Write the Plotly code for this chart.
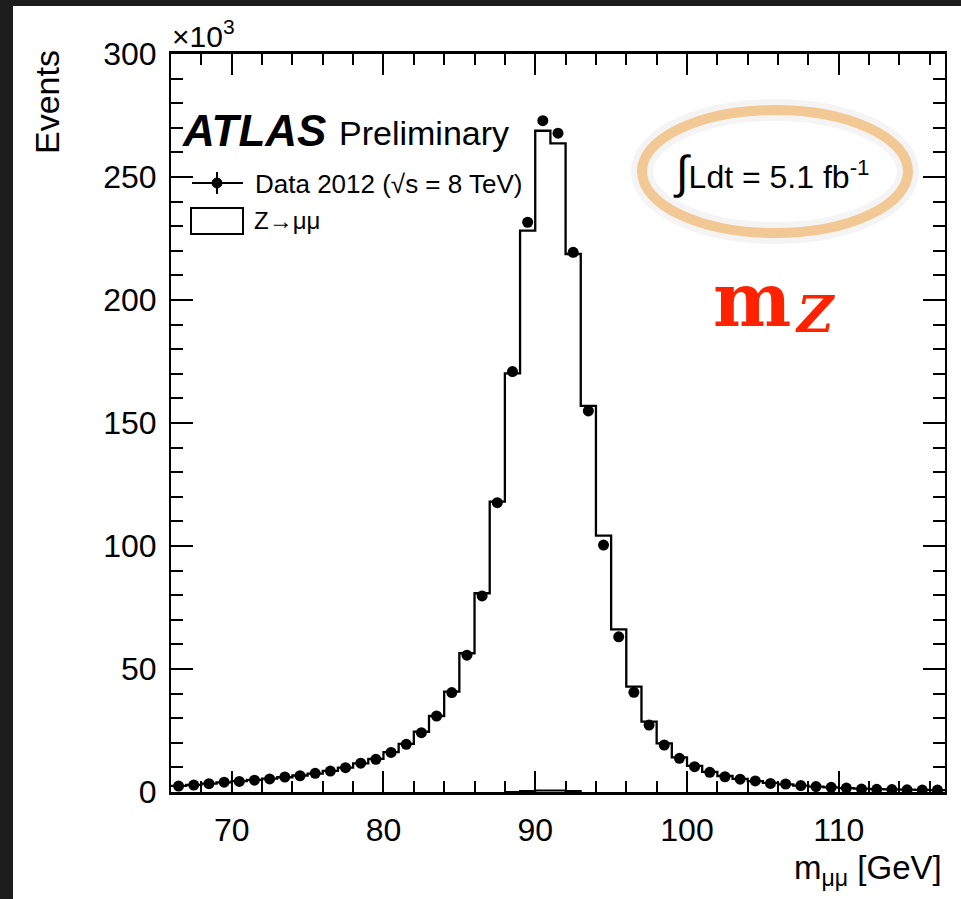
import plotly.graph_objects as go

# ---------------- data (thousands of events per 1 GeV bin) ----------------
bin_low_edges = [66, 67, 68, 69, 70, 71, 72, 73, 74, 75, 76, 77, 78, 79, 80, 81, 82,
                 83, 84, 85, 86, 87, 88, 89, 90, 91, 92, 93, 94, 95, 96, 97, 98, 99,
                 100, 101, 102, 103, 104, 105, 106, 107, 108, 109, 110, 111, 112, 113,
                 114, 115, 116]
bin_width = 1.0

data_2012 = [2.4, 2.8, 3.4, 4.0, 4.3, 4.8, 5.3, 6.1, 6.6, 7.6, 8.5, 9.9, 11.7, 13.3,
             16.1, 19.4, 24.1, 30.9, 40.4, 55.6, 79.7, 117.6, 170.9, 231.6, 272.9,
             267.8, 219.4, 154.9, 100.4, 63.1, 40.5, 27.2, 19.1, 13.7, 10.3, 8.0, 6.2,
             5.2, 4.5, 3.5, 3.25, 2.6, 2.2, 1.9, 1.6, 1.2, 1.1, 1.0, 0.9, 0.8, 0.8]

z_mumu_mc = [2.5, 2.9, 3.4, 3.9, 4.4, 4.9, 5.4, 6.0, 6.7, 7.5, 8.6, 9.9, 11.6, 13.5,
             16.2, 19.6, 24.5, 30.9, 40.8, 56.4, 80.8, 118.0, 170.2, 228.2, 268.8,
             263.7, 218.7, 157.0, 104.2, 66.1, 42.8, 28.6, 19.8, 14.1, 10.6, 8.2, 6.5,
             5.3, 4.4, 3.7, 3.1, 2.6, 2.2, 1.9, 1.6, 1.4, 1.2, 1.1, 1.0, 0.9, 0.8]

bkg_low_edges = [88, 89, 90, 91, 92, 93]
bkg_values = [0.0, 0.4, 0.6, 0.6, 0.4, 0.0]

x_ticks = [70, 80, 90, 100, 110]
y_ticks = [0, 50, 100, 150, 200, 250, 300]

# ---------------- geometry ----------------
W, H = 961, 899
ML, MR, MT, MB = 171, 16, 54, 107
PW, PH = W - ML - MR, H - MT - MB


def px(xp):
    return (xp - ML) / PW


def py(yp):
    return (H - MB - yp) / PH


FONT = "Liberation Sans, Arial, Helvetica, sans-serif"
SERIF = "DejaVu Serif, Liberation Serif, serif"

bin_centres = [e + bin_width / 2 for e in bin_low_edges]
mc_x = bin_low_edges + [bin_low_edges[-1] + bin_width]
mc_y = z_mumu_mc + [z_mumu_mc[-1]]

fig = go.Figure()

fig.add_trace(go.Scatter(x=mc_x, y=mc_y, mode="lines", line=dict(shape="hv", color="black", width=2.3),
                         hoverinfo="skip", showlegend=False))
fig.add_trace(go.Scatter(x=bkg_low_edges, y=bkg_values, mode="lines",
                         line=dict(shape="hv", color="black", width=2),
                         hoverinfo="skip", showlegend=False))
fig.add_trace(go.Scatter(x=bin_centres, y=data_2012, mode="markers",
                         marker=dict(color="black", size=11), showlegend=False))

shapes = []
# white page over dark frame
shapes.append(dict(type="rect", xref="paper", yref="paper", layer="below",
                   x0=px(13), x1=px(W + 5), y0=py(H + 5), y1=py(6),
                   fillcolor="white", line=dict(width=0)))
# legend: data marker
shapes.append(dict(type="line", xref="paper", yref="paper", x0=px(192), x1=px(243), y0=py(183), y1=py(183),
                   line=dict(color="black", width=2)))
shapes.append(dict(type="line", xref="paper", yref="paper", x0=px(217), x1=px(217), y0=py(172), y1=py(194),
                   line=dict(color="black", width=2)))
shapes.append(dict(type="circle", xref="paper", yref="paper", x0=px(212), x1=px(222), y0=py(188), y1=py(178),
                   fillcolor="black", line=dict(color="black", width=1)))
# legend: MC box
shapes.append(dict(type="rect", xref="paper", yref="paper", x0=px(191), x1=px(243), y0=py(234), y1=py(208),
                   line=dict(color="black", width=2), fillcolor="white"))
# lumi ellipse: soft shadow + orange crayon ring
shapes.append(dict(type="circle", xref="paper", yref="paper", x0=px(642), x1=px(908), y0=py(233), y1=py(110),
                   line=dict(color="rgba(0,0,0,0.045)", width=22)))
shapes.append(dict(type="circle", xref="paper", yref="paper", x0=px(642), x1=px(908), y0=py(233), y1=py(110),
                   line=dict(color="#F2C994", width=10)))

annotations = []
annotations.append(dict(text="<b><i>ATLAS</i></b>", x=px(180), y=py(130), xref="paper", yref="paper",
                        xanchor="left", yanchor="middle", showarrow=False,
                        font=dict(family=FONT, size=44, color="black")))
annotations.append(dict(text="Preliminary", x=px(337), y=py(133), xref="paper", yref="paper",
                        xanchor="left", yanchor="middle", showarrow=False,
                        font=dict(family=FONT, size=34, color="black")))
annotations.append(dict(text="Data 2012 (√s = 8 TeV)", x=px(253), y=py(184), xref="paper", yref="paper",
                        xanchor="left", yanchor="middle", showarrow=False,
                        font=dict(family=FONT, size=26, color="black")))
annotations.append(dict(text="Z→μμ", x=px(252), y=py(221), xref="paper", yref="paper",
                        xanchor="left", yanchor="middle", showarrow=False,
                        font=dict(family=FONT, size=24, color="black")))
annotations.append(dict(text="<span style='font-size:46px'>∫</span>Ldt = 5.1 fb<sup>-1</sup>",
                        x=px(771), y=py(172), xref="paper", yref="paper",
                        xanchor="center", yanchor="middle", showarrow=False,
                        font=dict(family=FONT, size=32, color="black")))
annotations.append(dict(text="<b>m</b>", x=px(711), y=py(300), xref="paper", yref="paper",
                        xanchor="left", yanchor="middle", showarrow=False,
                        font=dict(family=SERIF, size=74, color="#FF2200")))
annotations.append(dict(text="<b><i>Z</i></b>", x=px(793), y=py(314), xref="paper", yref="paper",
                        xanchor="left", yanchor="middle", showarrow=False,
                        font=dict(family=SERIF, size=50, color="#FF2200")))
annotations.append(dict(text="×10<sup>3</sup>", x=px(170), y=py(34), xref="paper", yref="paper",
                        xanchor="left", yanchor="middle", showarrow=False,
                        font=dict(family=FONT, size=30, color="black")))
annotations.append(dict(text="Events", x=px(47), y=py(102), xref="paper", yref="paper", textangle=-90,
                        xanchor="center", yanchor="middle", showarrow=False,
                        font=dict(family=FONT, size=34, color="black")))
annotations.append(dict(text="m<sub>μμ</sub> [GeV]", x=px(944), y=py(870), xref="paper", yref="paper",
                        xanchor="right", yanchor="middle", showarrow=False,
                        font=dict(family=FONT, size=33, color="black")))

fig.update_layout(
    width=W, height=H,
    margin=dict(l=ML, r=MR, t=MT, b=MB, pad=0),
    paper_bgcolor="#1d1d1d",
    plot_bgcolor="white",
    shapes=shapes,
    annotations=annotations,
    showlegend=False,
    font=dict(family=FONT, color="black"),
)

fig.update_xaxes(range=[66, 117], tickvals=x_ticks, ticktext=[str(v) for v in x_ticks],
                 ticks="inside", ticklen=21, tickwidth=2, tickcolor="black",
                 minor=dict(dtick=2, tick0=66, ticks="inside", ticklen=11, tickwidth=2, tickcolor="black"),
                 showline=True, linecolor="black", linewidth=2.5, mirror="ticks",
                 showgrid=False, zeroline=False, tickfont=dict(family=FONT, size=32, color="black"),
                 ticklabelstandoff=8)
fig.update_yaxes(range=[0, 300], tickvals=y_ticks, ticktext=[str(v) for v in y_ticks],
                 ticks="inside", ticklen=22, tickwidth=2, tickcolor="black",
                 minor=dict(dtick=10, ticks="inside", ticklen=12, tickwidth=2, tickcolor="black"),
                 showline=True, linecolor="black", linewidth=2, mirror="ticks",
                 showgrid=False, zeroline=False, tickfont=dict(family=FONT, size=32, color="black"),
                 ticklabelstandoff=6)

fig.write_html("out.html")
